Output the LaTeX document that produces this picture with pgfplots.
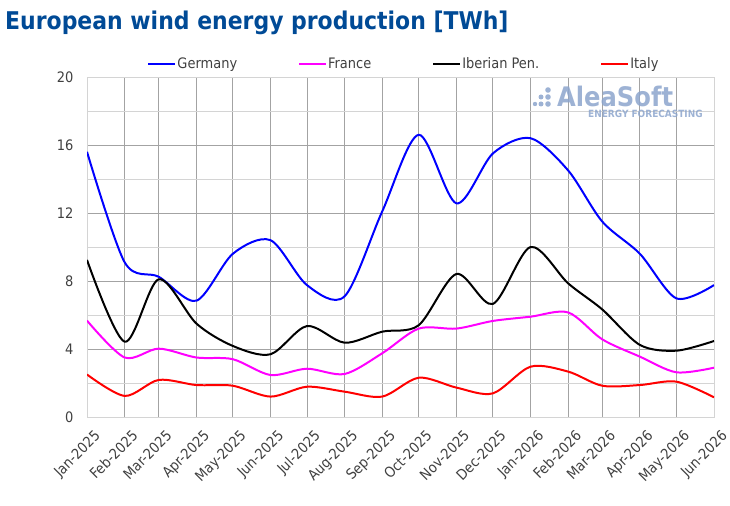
\documentclass[border=0pt]{standalone}
\usepackage{pgfplots}
\pgfplotsset{compat=1.18}
\usepackage{fontspec}
\setmainfont{DejaVu Sans Condensed}
\definecolor{titleblue}{RGB}{0,74,150}
\definecolor{txtgray}{RGB}{64,64,64}
\definecolor{logoblue}{RGB}{140,165,205}
\pgfplotstableread{
x ger fra ibe ita
0   15.6 5.67 9.24 2.50
31  9.1  3.50 4.43 1.24
59  8.25 4.02 8.10 2.18
90  6.84 3.50 5.50 1.88
120 9.6  3.40 4.18 1.84
151 10.4 2.47 3.69 1.20
181 7.76 2.84 5.35 1.78
212 7.1  2.53 4.37 1.49
243 12.1 3.75 5.02 1.20
273 16.6 5.20 5.40 2.31
304 12.57 5.20 8.41 1.73
334 15.5 5.65 6.65 1.39
365 16.4 5.90 10.0 2.96
396 14.5 6.15 7.86 2.67
424 11.5 4.57 6.33 1.84
455 9.6  3.55 4.24 1.88
485 6.98 2.63 3.90 2.08
516 7.76 2.90 4.47 1.16
}\data
\begin{document}
\begin{tikzpicture}
\useasboundingbox (0,0) rectangle (730bp,506bp);
\node[anchor=base west, inner sep=0pt, text=titleblue, font=\fontsize{24.5}{27}\selectfont\bfseries] at (5bp,476bp) {European wind energy production [TWh]};
\begin{axis}[
  at={(87bp,89bp)}, anchor=south west,
  scale only axis, width=627bp, height=340bp,
  xmin=0, xmax=516, ymin=0, ymax=20,
  xtick={0,31,59,90,120,151,181,212,243,273,304,334,365,396,424,455,485,516},
  xticklabels={Jan-2025,Feb-2025,Mar-2025,Apr-2025,May-2025,Jun-2025,Jul-2025,Aug-2025,Sep-2025,Oct-2025,Nov-2025,Dec-2025,Jan-2026,Feb-2026,Mar-2026,Apr-2026,May-2026,Jun-2026},
  xticklabel style={rotate=45, anchor=north east, inner sep=1pt, yshift=-12bp, xshift=-3bp},
  ytick={0,4,...,20},
  minor ytick={2,6,...,18},
  yticklabel style={xshift=-10bp},
  /pgf/number format/assume math mode=true,
  tick label style={font=\fontsize{14.5}{16}\selectfont, text=txtgray},
  major tick length=0pt, minor tick length=0pt,
  grid=both,
  major grid style={draw=black!36, line width=0.8pt},
  minor grid style={draw=black!17, line width=0.8pt},
  axis line style={draw=black!17, line width=0.8pt},
  legend columns=4,
  legend style={at={(0.5,1)}, anchor=south, yshift=4bp, xshift=3bp, draw=none, fill=none,
    font=\fontsize{14.5}{16}\selectfont, text=txtgray,
    /tikz/every even column/.append style={column sep=60bp},
    nodes={inner sep=1pt}},
  legend image code/.code={\draw[#1, line width=2pt] (0bp,0bp) -- (27bp,0bp);},
  every axis plot/.append style={line width=2pt, smooth, no markers},
]
\addplot[color={rgb,255:red,0;green,0;blue,255}] table[x=x,y=ger]{\data};
\addlegendentry{Germany}
\addplot[color={rgb,255:red,255;green,0;blue,255}] table[x=x,y=fra]{\data};
\addlegendentry{France}
\addplot[color=black] table[x=x,y=ibe]{\data};
\addlegendentry{Iberian Pen.}
\addplot[color={rgb,255:red,255;green,0;blue,0}] table[x=x,y=ita]{\data};
\addlegendentry{Italy}
\end{axis}
\begin{scope}[opacity=0.85]
\node[anchor=base west, inner sep=0pt, text=logoblue, font=\fontsize{27}{28}\selectfont\bfseries] at (557bp,399bp) {AleaSoft};
\node[anchor=base west, inner sep=0pt, text=logoblue, font=\fontsize{10}{11}\selectfont\bfseries] at (588bp,388bp) {ENERGY FORECASTING};
\fill[logoblue] (535bp,402bp) circle (2.2bp);
\fill[logoblue] (541bp,402bp) circle (2.5bp);
\fill[logoblue] (548bp,402bp) circle (2.8bp);
\fill[logoblue] (541bp,409bp) circle (2.5bp);
\fill[logoblue] (548bp,409bp) circle (2.8bp);
\fill[logoblue] (548bp,416bp) circle (2.8bp);
\end{scope}
\end{tikzpicture}
\end{document}
